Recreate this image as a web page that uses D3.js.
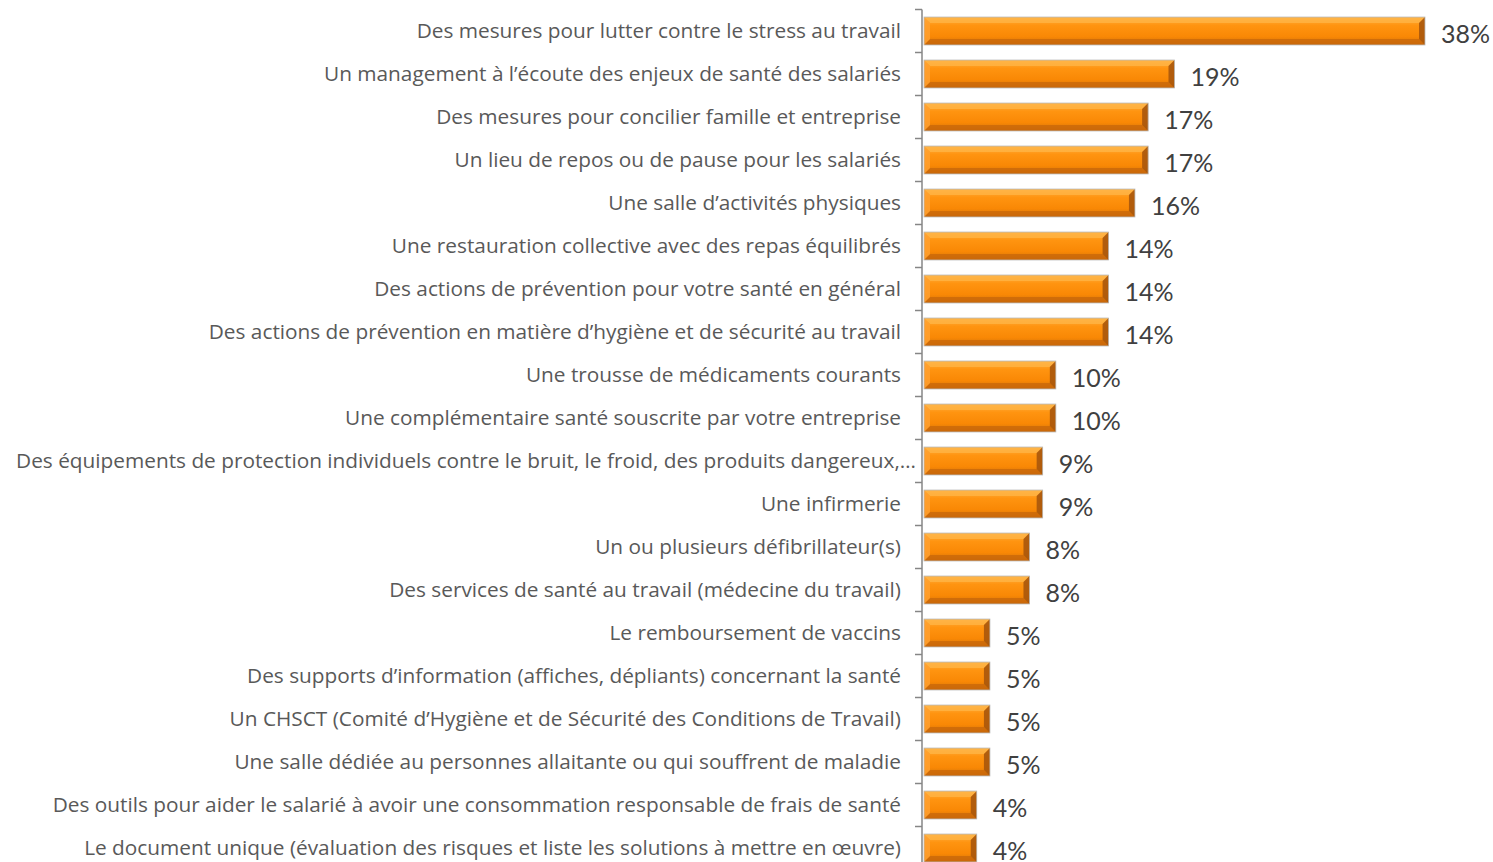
<!DOCTYPE html>
<html><head><meta charset="utf-8">
<script src="https://cdn.jsdelivr.net/npm/d3@7"></script>
<style>body{margin:0;background:#fff;} svg{display:block;}</style>
</head><body>
<svg id="c" width="1493" height="862"></svg>
<script>
const categories = [
 "Des mesures pour lutter contre le stress au travail",
 "Un management à l’écoute des enjeux de santé des salariés",
 "Des mesures pour concilier famille et entreprise",
 "Un lieu de repos ou de pause pour les salariés",
 "Une salle d’activités physiques",
 "Une restauration collective avec des repas équilibrés",
 "Des actions de prévention pour votre santé en général",
 "Des actions de prévention en matière d’hygiène et de sécurité au travail",
 "Une trousse de médicaments courants",
 "Une complémentaire santé souscrite par votre entreprise",
 "Des équipements de protection individuels contre le bruit, le froid, des produits dangereux,…",
 "Une infirmerie",
 "Un ou plusieurs défibrillateur(s)",
 "Des services de santé au travail (médecine du travail)",
 "Le remboursement de vaccins",
 "Des supports d’information (affiches, dépliants) concernant la santé",
 "Un CHSCT (Comité d’Hygiène et de Sécurité des Conditions de Travail)",
 "Une salle dédiée au personnes allaitante ou qui souffrent de maladie",
 "Des outils pour aider le salarié à avoir une consommation responsable de frais de santé",
 "Le document unique (évaluation des risques et liste les solutions à mettre en œuvre)"
];
const values = [38,19,17,17,16,14,14,14,10,10,9,9,8,8,5,5,5,5,4,4];
const valueLabels = values.map(v => v + "%");

const svg = d3.select("#c");
const x = d3.scaleLinear().domain([0, 38]).range([924, 1425]);
const y = d3.scaleBand().domain(categories).range([9.5, 869.5]).paddingInner(0.35).paddingOuter(0.175);

const defs = svg.append("defs");
const g1 = defs.append("linearGradient").attr("id","barg").attr("x1",0).attr("y1",0).attr("x2",0).attr("y2",1);
[[0,"#FFB347"],[0.12,"#FFA52E"],[0.3,"#FF9410"],[0.7,"#F98805"],[0.88,"#E07A08"],[1,"#C86A0A"]].forEach(s=>g1.append("stop").attr("offset",s[0]).attr("stop-color",s[1]));

const bars = svg.append("g");
const bv = 6;
values.forEach((v,i)=>{
  const c = categories[i];
  const x0 = x(0), x1 = x(v), y0 = y(c), h = y.bandwidth(), y1 = y0 + h;
  const g = bars.append("g");
  g.append("rect").attr("x",x0).attr("y",y0).attr("width",x1-x0).attr("height",h).attr("fill","url(#barg)");
  g.append("polygon").attr("points",`${x0},${y0} ${x1},${y0} ${x1-bv},${y0+bv} ${x0+bv},${y0+bv}`).attr("fill","#FFB547").attr("opacity",0.75);
  g.append("polygon").attr("points",`${x0},${y1} ${x1},${y1} ${x1-bv},${y1-bv} ${x0+bv},${y1-bv}`).attr("fill","#C9680A").attr("opacity",0.8);
  g.append("polygon").attr("points",`${x0},${y0} ${x0+bv},${y0+bv} ${x0+bv},${y1-bv} ${x0},${y1}`).attr("fill","#FFA030").attr("opacity",0.85);
  g.append("polygon").attr("points",`${x1},${y0} ${x1-bv},${y0+bv} ${x1-bv},${y1-bv} ${x1},${y1}`).attr("fill","#A9560C").attr("opacity",0.9);
  g.append("rect").attr("x",x0).attr("y",y0).attr("width",x1-x0).attr("height",h).attr("fill","none").attr("stroke","#B9B9B9").attr("stroke-width",0.8);
});

const axisG = svg.append("g").attr("transform","translate(922,0)");
axisG.append("line").attr("x1",0).attr("x2",0).attr("y1",y.range()[0]).attr("y2",y.range()[1]).attr("stroke","#868686").attr("stroke-width",1.5);
const ticks = d3.range(categories.length+1).map(i=> y.range()[0] + i*y.step());
axisG.selectAll(".tk").data(ticks).join("line").attr("x1",-7).attr("x2",0).attr("y1",d=>d).attr("y2",d=>d).attr("stroke","#868686").attr("stroke-width",1.5);

svg.append("g").selectAll("text").data(categories).join("text")
  .attr("x", (d,i)=> i===10 ? 916 : 901)
  .attr("y", d=> y(d)+y.bandwidth()/2)
  .attr("dy","0.35em")
  .attr("text-anchor","end")
  .attr("font-family","'Open Sans', Lato, sans-serif")
  .attr("font-size",20.8)
  .attr("fill","#595959")
  .text(d=>d);

svg.append("g").selectAll("text").data(values).join("text")
  .attr("x", d=> x(d)+16)
  .attr("y", (d,i)=> y(categories[i])+y.bandwidth()/2 + 3)
  .attr("dy","0.35em")
  .attr("font-family","Lato, 'Open Sans', sans-serif")
  .attr("font-size",25)
  .attr("fill","#404040")
  .text((d,i)=>valueLabels[i]);
</script>
</body></html>
